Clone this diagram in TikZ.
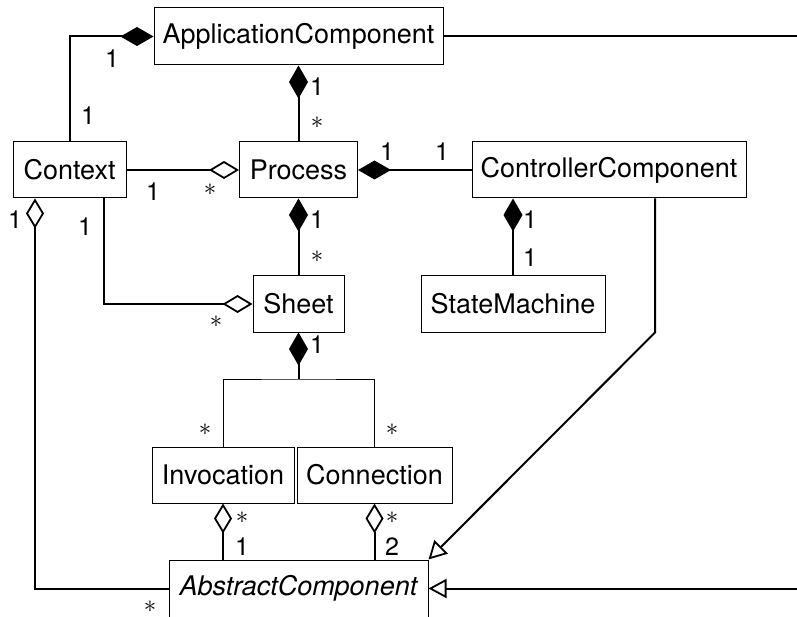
\documentclass[tikz,border=0pt]{standalone}
\usepackage{fontspec}
\setmainfont{TeX Gyre Heros}
\usetikzlibrary{arrows.meta}
\begin{document}
\begin{tikzpicture}[x=1pt,y=-1pt,
 cls/.style={draw, line width=1pt, inner sep=0pt, minimum height=56pt, font=\fontsize{27}{31}\selectfont},
 lnk/.style={line width=2pt},
 comp/.style={lnk, -{Diamond[length=33pt,width=19pt]}},
 agg/.style={lnk, -{Diamond[open,length=30pt,width=18pt,line width=1.8pt]}},
 gen/.style={lnk, -{Triangle[open,length=18pt,width=19pt,line width=1.8pt]}},
 brl/.style={line width=1pt},
 mult/.style={inner sep=0pt, font=\fontsize{25}{29}\selectfont},
 star/.style={inner sep=0pt, font=\fontsize{25}{29}\selectfont}
]
\useasboundingbox (0,0) rectangle (797,617);

\node[cls, minimum width=289pt, minimum height=57pt] (app) at (298.5,36.5) {ApplicationComponent};
\node[cls, minimum width=113pt] (ctx) at (69.5,170) {Context};
\node[cls, minimum width=118pt] (proc) at (298.5,170) {Process};
\node[cls, minimum width=274pt] (ctrl) at (609,170) {ControllerComponent};
\node[cls, minimum width=184pt] (sm) at (513,304) {StateMachine};
\node[cls, minimum width=91pt] (sheet) at (298.5,304) {Sheet};
\node[cls, minimum width=142pt] (inv) at (223,475) {Invocation};
\node[cls, minimum width=155pt] (conn) at (374.5,475) {Connection};
\node[cls, minimum width=259pt, minimum height=57pt] (abs) at (298.5,588.5) {\itshape AbstractComponent};

\coordinate (br) at (298.5,379);
\coordinate (rt) at (799,36.5);
\coordinate (rb) at (799,588.5);

% connectors
\draw[comp] (ctx.north) |- (app.west);
\draw[comp] (proc.north) -- (app.south);
\draw[agg] (ctx.east) -- (proc.west);
\draw[comp] (ctrl.west) -- (proc.east);
\draw[comp] (sm.north) -- (sm.north |- ctrl.south);
\draw[comp] (sheet.north) -- (proc.south);
\draw[agg] ([xshift=34.5pt]ctx.south) |- (sheet.west);
\draw[agg] (abs.west) -| ([xshift=-34.5pt]ctx.south);
\draw[comp] (br) -- (sheet.south);
\draw[brl] (inv.north) |- (br) -| (conn.north);
\draw[agg] (abs.north -| inv.south) -- (inv.south);
\draw[agg] (abs.north -| conn.south) -- (conn.south);
\draw[gen] ([xshift=46pt]ctrl.south) -- ++(0,134) -- (abs.north east);
\draw[gen] (app.east) -- (rt) -- (rb) -- (abs.east);

% multiplicities
\node[mult] (m1) at (112,59) {1};
\node[mult] (m2) at (88,116) {1};
\node[mult] (m3) at (317,87) {1};
\node[star] (m4) at (317,123) {$\ast$};
\node[mult] (m5) at (153,192) {1};
\node[star] (m6) at (210,190) {$\ast$};
\node[mult] (m7) at (387,152) {1};
\node[mult] (m8) at (442,152) {1};
\node[mult] (m9) at (530,220) {1};
\node[mult] (m10) at (530,258) {1};
\node[mult] (m11) at (15,220) {1};
\node[mult] (m12) at (85,227) {1};
\node[mult] (m13) at (317,220) {1};
\node[star] (m14) at (317,257) {$\ast$};
\node[star] (m15) at (216,322) {$\ast$};
\node[mult] (m16) at (317,345) {1};
\node[star] (m17) at (205,430) {$\ast$};
\node[star] (m18) at (392,430) {$\ast$};
\node[star] (m19) at (242,518) {$\ast$};
\node[mult] (m20) at (242,547) {1};
\node[star] (m21) at (392,518) {$\ast$};
\node[mult] (m22) at (392,547) {2};
\node[star] (m23) at (150,607) {$\ast$};
\end{tikzpicture}
\end{document}
